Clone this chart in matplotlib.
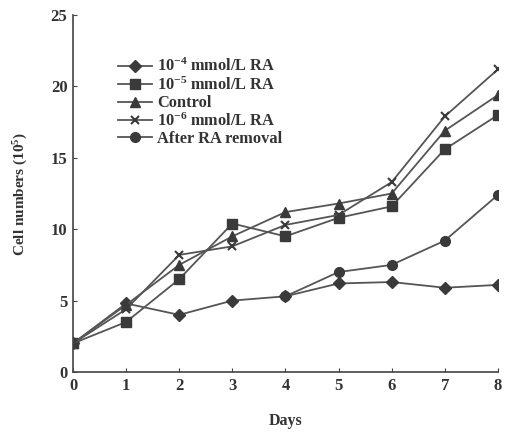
import matplotlib.pyplot as plt

plt.rcParams['font.family'] = ['Liberation Serif', 'DejaVu Serif']
plt.rcParams['font.weight'] = 'bold'
plt.rcParams['mathtext.fontset'] = 'custom'
plt.rcParams['mathtext.rm'] = 'Liberation Serif:bold'
plt.rcParams['mathtext.default'] = 'rm'

# Data
days = [0, 1, 2, 3, 4, 5, 6, 7, 8]
ra_1e4 = [2.0, 4.8, 4.0, 5.0, 5.3, 6.2, 6.3, 5.9, 6.1]
ra_1e5 = [2.0, 3.5, 6.5, 10.4, 9.5, 10.8, 11.6, 15.6, 18.0]
control = [2.0, 4.7, 7.5, 9.5, 11.2, 11.8, 12.5, 16.9, 19.4]
ra_1e6 = [2.0, 4.4, 8.2, 8.8, 10.3, 11.0, 13.3, 17.9, 21.2]
removal_days = [4, 5, 6, 7, 8]
removal = [5.3, 7.0, 7.5, 9.2, 12.4]

labels = [r"10$^{-4}$ mmol/L RA", r"10$^{-5}$ mmol/L RA", "Control",
          r"10$^{-6}$ mmol/L RA", "After RA removal"]

line_c = '#555555'
mark_c = '#3a3a3a'

fig = plt.figure(figsize=(5.07, 4.32), dpi=100)
ax = fig.add_axes([0.144, 0.139, 0.838, 0.826])

kw = dict(color=line_c, lw=1.3, mfc=mark_c, mec=mark_c)
ax.plot(days, ra_1e4, marker='D', ms=6, label=labels[0], **kw)
ax.plot(days, ra_1e5, marker='s', ms=6.5, label=labels[1], **kw)
ax.plot(days, control, marker='^', ms=6.5, label=labels[2], **kw)
ax.plot(days, ra_1e6, marker='x', ms=6, mew=1.5, label=labels[3], **kw)
ax.plot(removal_days, removal, marker='o', ms=7, label=labels[4], **kw)

ax.set_xlim(0, 8)
ax.set_ylim(0, 25)
ax.set_xticks(days)
ax.set_yticks([0, 5, 10, 15, 20, 25])
ax.spines['top'].set_visible(False)
ax.spines['right'].set_visible(False)
for s in ['left', 'bottom']:
    ax.spines[s].set_color('#444444')
    ax.spines[s].set_linewidth(1.2)
ax.tick_params(direction='in', length=3, colors='#444444', labelsize=12,
               labelcolor='#333333', pad=4)
for lab in ax.get_xticklabels() + ax.get_yticklabels():
    lab.set_fontweight('bold')

ax.set_xlabel("Days", fontsize=11.5, fontweight='bold', color='#333333', labelpad=14)
ax.set_ylabel(r"Cell numbers (10$^{5}$)", fontsize=11, fontweight='bold',
              color='#333333', labelpad=15)

leg = ax.legend(loc='upper left', bbox_to_anchor=(0.09, 0.898), frameon=False,
                fontsize=11.8, handlelength=2.1, handletextpad=0.3,
                labelspacing=0.08, borderaxespad=0)
for t in leg.get_texts():
    t.set_color('#333333')

fig.savefig('out.png', dpi=100)
